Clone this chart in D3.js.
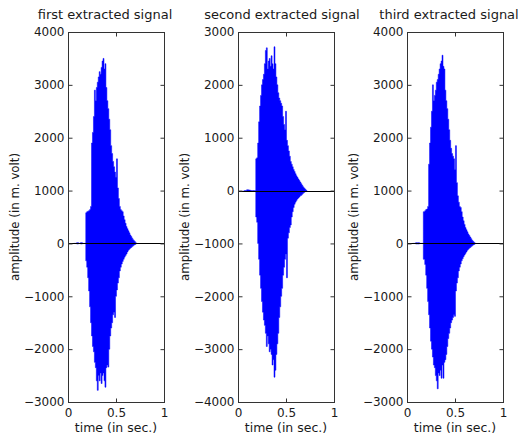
<!DOCTYPE html>
<html>
<head>
<meta charset="utf-8">
<script src="https://cdn.jsdelivr.net/npm/d3@7/dist/d3.min.js"></script>
<style>
  body { margin: 0; background: #fff; }
  svg { display: block; }
  text { font-family: "DejaVu Sans", sans-serif; fill: #1a1a1a; }
</style>
</head>
<body>
<svg class="graph"></svg>
<script>
// sample times (s) for the envelope readings
const time = [0.06, 0.08, 0.10, 0.12, 0.14, 0.16, 0.18,
  0.19, 0.20, 0.21, 0.22, 0.23, 0.24, 0.25, 0.26, 0.27, 0.28, 0.29,
  0.30, 0.31, 0.32, 0.33, 0.34, 0.35, 0.36, 0.37, 0.38, 0.39,
  0.40, 0.41, 0.42, 0.43, 0.44, 0.45, 0.46, 0.47, 0.48, 0.49,
  0.50, 0.51, 0.52, 0.53, 0.54, 0.55, 0.56, 0.57, 0.58, 0.59,
  0.60, 0.61, 0.62, 0.63, 0.64, 0.65, 0.66, 0.67, 0.68, 0.69,
  0.70, 0.71, 0.72];

// upper / lower extent of the signal at each sample (mV)
const firstHigh = [0, 0, 15, 0, 15, 0, 0,
  580, 600, 610, 620, 640, 700, 1900, 2100, 2400, 2900, 2700,
  2950, 3050, 3150, 3250, 3200, 3330, 3450, 3500, 3300, 3400,
  2950, 2700, 2550, 2350, 2150, 1850, 1700, 1550, 1450, 1350,
  1250, 1600, 1050, 850, 700, 640, 620, 600, 520, 450,
  380, 320, 280, 240, 200, 160, 130, 100, 70, 50,
  30, 10, 0];
const firstLow = [0, 0, -10, 0, -10, 0, 0,
  -330, -450, -650, -900, -1200, -1500, -1750, -1950, -2050, -2250, -2350,
  -2600, -2780, -2500, -2600, -2450, -2650, -2500, -2450, -2600, -2720,
  -2350, -2300, -2340, -2000, -1750, -1600, -1500, -1350, -1300, -1400,
  -1000, -880, -750, -650, -520, -450, -390, -340, -300, -260,
  -230, -200, -160, -130, -110, -90, -75, -60, -45, -30,
  -20, -5, 0];

const secondHigh = [0, 0, 15, 10, 0, 0, 0,
  600, 620, 900, 1300, 1600, 1800, 2000, 2100, 2200, 2400, 2650,
  2700, 2300, 2450, 2500, 2350, 2550, 2400, 2300, 2720, 2400,
  2150, 2000, 1850, 1750, 1700, 1650, 1600, 1400, 1250, 1150,
  1500, 950, 850, 750, 650, 550, 500, 450, 400, 360,
  320, 280, 250, 220, 190, 160, 130, 100, 70, 50,
  30, 10, 0];
const secondLow = [0, 0, -15, -10, 0, 0, 0,
  -500, -600, -1000, -1300, -1600, -1850, -2100, -2300, -2450, -2550, -2700,
  -2950, -2750, -2900, -3050, -3000, -3100, -3300, -3200, -3530, -3400,
  -3100, -2900, -2700, -2400, -2200, -2000, -1850, -1600, -1450, -1300,
  -1200, -1650, -900, -800, -700, -650, -500, -400, -320, -260,
  -220, -190, -160, -140, -120, -100, -90, -70, -50, -35,
  -20, -5, 0];

const thirdHigh = [0, 0, 15, 15, 0, 0, 600,
  620, 640, 650, 700, 1500, 1900, 2200, 2500, 3000, 2700, 2800,
  2900, 3050, 3100, 3200, 3300, 3400, 3450, 3560, 3350, 3300,
  2900, 2700, 2550, 2350, 2150, 1950, 1800, 1700, 1650, 1600,
  1400, 1850, 1150, 900, 780, 700, 680, 600, 500, 430,
  360, 300, 260, 220, 180, 150, 120, 90, 60, 40,
  20, 5, 0];
const thirdLow = [0, 0, -10, -10, 0, 0, -300,
  -400, -600, -850, -1100, -1350, -1600, -1850, -2000, -2150, -2300, -2350,
  -2500, -2600, -2750, -2450, -2500, -2400, -2550, -2300, -2550, -2250,
  -2200, -2100, -1950, -1800, -1700, -1600, -1500, -1450, -1400, -1350,
  -1380, -900, -750, -650, -520, -450, -390, -330, -290, -250,
  -220, -190, -160, -130, -110, -90, -75, -60, -45, -30,
  -20, -5, 0];

const titles = ["first extracted signal", "second extracted signal", "third extracted signal"];
const yDomains = [[-3000, 4000], [-4000, 3000], [-3000, 4000]];
const xTicks = [0, 0.5, 1];
const xLabel = "time (in sec.)";
const yLabel = "amplitude (in m. volt)";

const highs = [firstHigh, secondHigh, thirdHigh];
const lows = [firstLow, secondLow, thirdLow];

const width = 518;
const height = 442;
const panelLeft = [68, 238, 407];
const panelWidth = 96;
const plotTop = 32;
const plotBottom = 402;
const titleShift = [-11, -4, -6];

const svg = d3.select(".graph")
    .attr("width", width)
    .attr("height", height);

titles.forEach((title, i) => {
  const x = d3.scaleLinear().domain([0, 1]).range([panelLeft[i], panelLeft[i] + panelWidth]);
  const y = d3.scaleLinear().domain(yDomains[i]).range([plotBottom, plotTop]);
  const g = svg.append("g");

  const rows = time.map((t, k) => ({ t: t, hi: highs[i][k], lo: lows[i][k] }));

  const area = d3.area()
      .x(d => x(d.t))
      .y0(d => y(d.lo))
      .y1(d => y(d.hi))
      .curve(d3.curveStep);

  g.append("path")
      .datum(rows)
      .attr("d", area)
      .attr("fill", "#0000ff")
      .attr("stroke", "#0000ff")
      .attr("stroke-width", 0.5);

  // zero line
  g.append("line")
      .attr("x1", x(0)).attr("x2", x(1))
      .attr("y1", Math.round(y(0)) + 0.5).attr("y2", Math.round(y(0)) + 0.5)
      .attr("stroke", "#000")
      .attr("stroke-width", 1);

  // axes, ticks pointing inward
  const yTicks = d3.range(yDomains[i][0], yDomains[i][1] + 1, 1000);
  const left = g.append("g")
      .attr("transform", `translate(${panelLeft[i] + 0.5},0)`)
      .call(d3.axisLeft(y).tickValues(yTicks).tickSize(-4).tickPadding(4).tickFormat(d3.format("d")));
  const right = g.append("g")
      .attr("transform", `translate(${panelLeft[i] + panelWidth + 0.5},0)`)
      .call(d3.axisRight(y).tickValues(yTicks).tickSize(-4).tickFormat(""));
  const bottomAx = g.append("g")
      .attr("transform", `translate(0,${plotBottom + 0.5})`)
      .call(d3.axisBottom(x).tickValues(xTicks).tickSize(-4).tickPadding(4).tickFormat(d => d));
  const topAx = g.append("g")
      .attr("transform", `translate(0,${plotTop + 0.5})`)
      .call(d3.axisTop(x).tickValues(xTicks).tickSize(-4).tickFormat(""));

  [left, right, bottomAx, topAx].forEach(a => {
    a.select(".domain").remove();
    a.selectAll("line").attr("stroke", "#333");
    a.selectAll("text").attr("font-size", 12).attr("fill", "#1a1a1a")
        .attr("font-family", "DejaVu Sans, sans-serif");
  });
  bottomAx.selectAll("text").attr("dy", "0.9em");

  g.append("rect")
      .attr("x", panelLeft[i] + 0.5)
      .attr("y", plotTop + 0.5)
      .attr("width", panelWidth)
      .attr("height", plotBottom - plotTop)
      .attr("fill", "none")
      .attr("stroke", "#333")
      .attr("stroke-width", 1);

  g.append("text")
      .attr("x", panelLeft[i] + panelWidth / 2 + titleShift[i])
      .attr("y", 19)
      .attr("text-anchor", "middle")
      .attr("font-size", 13)
      .text(title);

  g.append("text")
      .attr("x", panelLeft[i] + panelWidth / 2)
      .attr("y", 432)
      .attr("text-anchor", "middle")
      .attr("font-size", 12.5)
      .text(xLabel);

  g.append("text")
      .attr("transform", `translate(${panelLeft[i] - 49},${(plotTop + plotBottom) / 2}) rotate(-90)`)
      .attr("text-anchor", "middle")
      .attr("font-size", 11.8)
      .text(yLabel);
});
</script>
</body>
</html>
